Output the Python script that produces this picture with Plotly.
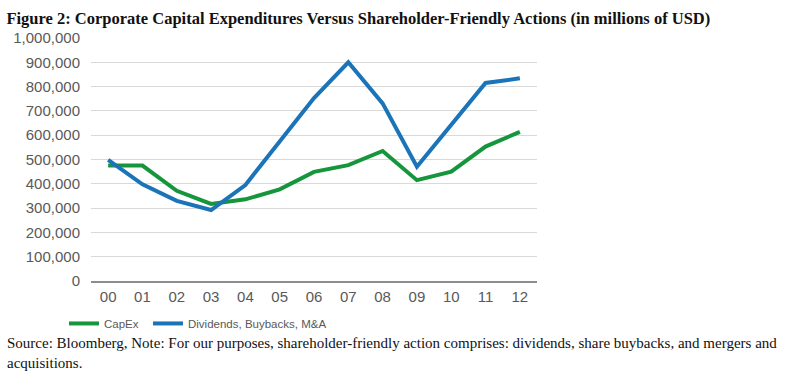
import plotly.graph_objects as go

years = ["00", "01", "02", "03", "04", "05", "06", "07", "08", "09", "10", "11", "12"]
capex = [475000, 475000, 371000, 317000, 336000, 377000, 449000, 477000, 535000, 415000, 450000, 553000, 614000]
shareholder = [498000, 398000, 330000, 292000, 395000, 575000, 753000, 900000, 731000, 470000, 645000, 815000, 834000]
y_ticks = [0, 100000, 200000, 300000, 400000, 500000, 600000, 700000, 800000, 900000, 1000000]

GREEN = "#16963c"
BLUE = "#1b73b8"
GRAY = "#595959"

fig = go.Figure()
fig.add_trace(go.Scatter(x=years, y=capex, mode="lines", name="CapEx",
                         line=dict(color=GREEN, width=4), legend="legend"))
fig.add_trace(go.Scatter(x=years, y=shareholder, mode="lines", name="Dividends, Buybacks, M&A",
                         line=dict(color=BLUE, width=4), legend="legend2"))

legend_font = dict(family="Liberation Sans, Arial, sans-serif", size=11.5, color=GRAY)

fig.update_layout(
    width=800, height=378,
    margin=dict(l=91, r=263, t=38, b=97, autoexpand=False),
    paper_bgcolor="white", plot_bgcolor="white",
    font=dict(family="Liberation Sans, Arial, sans-serif", size=15, color=GRAY),
    title=dict(text="<b>Figure 2: Corporate Capital Expenditures Versus Shareholder-Friendly Actions (in millions of USD)</b>",
               x=0.008, xanchor="left", xref="container",
               y=1 - 18/378, yanchor="middle", yref="container",
               font=dict(family="Liberation Serif, Times New Roman, serif", size=16.5, color="#111111")),
    showlegend=True,
    legend=dict(orientation="h", x=(64 - 91) / 446, xanchor="left", y=-0.115, yanchor="top",
                font=legend_font, bgcolor="rgba(0,0,0,0)"),
    legend2=dict(orientation="h", x=(148 - 91) / 446, xanchor="left", y=-0.115, yanchor="top",
                 font=legend_font, bgcolor="rgba(0,0,0,0)"),
)
fig.update_xaxes(type="category", range=[-0.5, 12.5], showgrid=False,
                 showline=True, linecolor="#8c8c8c", linewidth=2,
                 ticks="", tickfont=dict(size=15, color=GRAY), ticklabelstandoff=1)
fig.update_yaxes(range=[0, 1000000], tickvals=y_ticks, tickformat=",d",
                 showgrid=True, gridcolor="#d9d9d9", gridwidth=1,
                 zeroline=False, showline=False, ticks="",
                 tickfont=dict(size=15, color=GRAY), ticklabelstandoff=10)

fig.add_annotation(
    text="Source: Bloomberg, Note: For our purposes, shareholder-friendly action comprises: dividends, share buybacks, and mergers and<br>acquisitions.",
    xref="paper", yref="paper", x=(5 - 91) / 446, y=(281 - 333) / 243,
    xanchor="left", yanchor="top", align="left", showarrow=False,
    font=dict(family="Liberation Serif, Times New Roman, serif", size=15, color="#111111"))

fig.write_html("out.html", config={"displayModeBar": False},
               post_script="document.body.style.margin='0';")
